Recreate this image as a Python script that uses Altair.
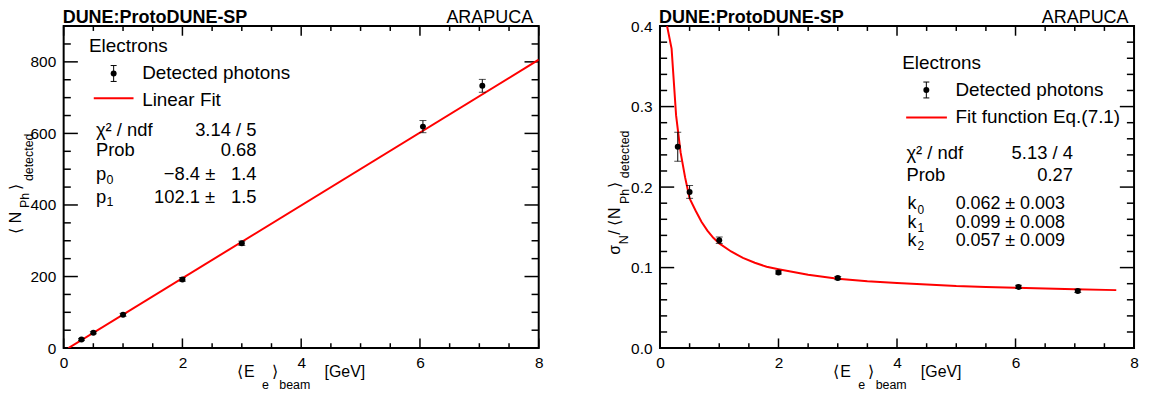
import altair as alt
import pandas as pd

FONT = "Liberation Sans"

# ---------------- data ----------------
E_beam = [0.3, 0.5, 1.0, 2.0, 3.0, 6.05, 7.05]

N_detected = [24, 43, 93, 192, 293, 619, 733]
N_detected_err = [3, 3, 4, 5, 6, 17, 18]
linfit_E = [0.08, 8.0]
linfit_N = [0, 806]

res_detected = [0.250, 0.194, 0.134, 0.094, 0.087, 0.076, 0.071]
res_detected_err = [0.018, 0.008, 0.004, 0.002, 0.002, 0.002, 0.002]
resfit_E = [0.12, 0.196, 0.272, 0.348, 0.424, 0.5, 0.6, 0.7, 0.8, 0.9, 1.0,
            1.2, 1.4, 1.6, 1.8, 2.0, 2.5, 3.0, 3.5, 4.0, 4.5, 5.0, 5.5, 6.0,
            6.5, 7.0, 7.7]
resfit_val = [0.400, 0.372, 0.289, 0.243, 0.212, 0.186, 0.171, 0.157, 0.146,
              0.137, 0.130, 0.120, 0.112, 0.106, 0.101, 0.098, 0.091, 0.086,
              0.083, 0.081, 0.079, 0.077, 0.076, 0.075, 0.074, 0.073, 0.072]

# tick positions / labels
x_major = [0, 2, 4, 6, 8]
x_minor = [0.5, 1, 1.5, 2.5, 3, 3.5, 4.5, 5, 5.5, 6.5, 7, 7.5]
yL_major = [0, 200, 400, 600, 800]
yL_minor = [50, 100, 150, 250, 300, 350, 450, 500, 550, 650, 700, 750, 850]
yR_major = [0.0, 0.1, 0.2, 0.3, 0.4]
yR_minor = [0.02, 0.04, 0.06, 0.08, 0.12, 0.14, 0.16, 0.18, 0.22, 0.24,
            0.26, 0.28, 0.32, 0.34, 0.36, 0.38]

# text content
title_left = "DUNE:ProtoDUNE-SP"
title_right = "ARAPUCA"
leg_header = "Electrons"
leg_points = "Detected photons"
leg_fit_L = "Linear Fit"
leg_fit_R = "Fit function Eq.(7.1)"
stats_L = [("χ² / ndf", "3.14 / 5"), ("Prob", "0.68")]
params_L = [("p", "0", "−8.4 ±", "1.4"), ("p", "1", "102.1 ±", "1.5")]
stats_R = [("χ² / ndf", "5.13 / 4"), ("Prob", "0.27")]
params_R = [("k", "0", "0.062 ± 0.003"), ("k", "1", "0.099 ± 0.008"),
            ("k", "2", "0.057 ± 0.009")]

# ---------------- geometry ----------------
WL, WR, H = 478, 477, 324
X0L, X0R, Y0 = 63, 663, 24
TMAJ_Y, TMIN_Y = 14.3, 7.2   # y-axis tick lengths (horizontal)
TMAJ_X, TMIN_X = 9.7, 4.9    # x-axis tick lengths (vertical)
DOT = 36

ONE = alt.Data(values=[{"k": 0}])


def axis(values, fmt, pad):
    return alt.Axis(values=values, format=fmt, labelFont=FONT, labelFontSize=15.5,
                    labelColor="black", labelPadding=pad, ticks=False, tickSize=0,
                    domain=False, grid=False, title=None, labelFlush=False,
                    labelOverlap=False)


def make_panel(W, X0, xsc, ysc, xax, yax, xs, ys, es, fx, fy, ymaj, ymin, ann):
    def T(s, x, y, size, align="left", weight="normal", angle=0):
        return alt.Chart(ONE).mark_text(
            text=s, align=align, baseline="alphabetic", fontSize=size, font=FONT,
            fontWeight=weight, angle=angle, color="black"
        ).encode(x=alt.value(x - X0), y=alt.value(y - Y0))

    def HR(x1, x2, y, color="black", w=1.0):
        return alt.Chart(ONE).mark_rule(color=color, strokeWidth=w).encode(
            x=alt.value(x1 - X0), x2=alt.value(x2 - X0), y=alt.value(y - Y0))

    def VR(x, y1, y2, color="black", w=1.0):
        return alt.Chart(ONE).mark_rule(color=color, strokeWidth=w).encode(
            x=alt.value(x - X0), y=alt.value(y1 - Y0), y2=alt.value(y2 - Y0))

    layers = []
    # inward ticks on all four sides
    for vals, ln in ((ymaj, TMAJ_Y), (ymin, TMIN_Y)):
        d = pd.DataFrame({"v": vals})
        Y = alt.Y("v:Q", scale=ysc, axis=yax)
        layers.append(alt.Chart(d).mark_rule(color="black", strokeWidth=1.5).encode(
            y=Y, x=alt.value(0), x2=alt.value(ln)))
        layers.append(alt.Chart(d).mark_rule(color="black", strokeWidth=1.5).encode(
            y=Y, x=alt.value(W - ln), x2=alt.value(W)))
    for vals, ln in ((x_major, TMAJ_X), (x_minor, TMIN_X)):
        d = pd.DataFrame({"v": vals})
        X = alt.X("v:Q", scale=xsc, axis=xax)
        layers.append(alt.Chart(d).mark_rule(color="black", strokeWidth=1.5).encode(
            x=X, y=alt.value(H - ln), y2=alt.value(H)))
        layers.append(alt.Chart(d).mark_rule(color="black", strokeWidth=1.5).encode(
            x=X, y=alt.value(0), y2=alt.value(ln)))

    # fit curve
    fd = pd.DataFrame({"x": fx, "y": fy})
    layers.append(alt.Chart(fd).mark_line(color="#ff0000", strokeWidth=2, clip=True).encode(
        x=alt.X("x:Q", scale=xsc, axis=xax), y=alt.Y("y:Q", scale=ysc, axis=yax)))

    # data points with error bars
    dd = pd.DataFrame({"x": xs, "y": ys, "e": es})
    base = alt.Chart(dd).transform_calculate(lo="datum.y - datum.e", hi="datum.y + datum.e")
    X = alt.X("x:Q", scale=xsc, axis=xax)
    layers.append(base.mark_rule(color="black", strokeWidth=1).encode(
        x=X, y=alt.Y("lo:Q", scale=ysc, axis=yax), y2="hi:Q"))
    for f in ("lo", "hi"):
        layers.append(base.mark_tick(color="black", orient="horizontal", size=7,
                                     thickness=1).encode(
            x=X, y=alt.Y(f + ":Q", scale=ysc, axis=yax)))
    layers.append(base.mark_circle(color="black", size=DOT, opacity=1).encode(
        x=X, y=alt.Y("y:Q", scale=ysc, axis=yax)))

    # annotations
    for a in ann:
        kind = a[0]
        if kind == "T":
            layers.append(T(*a[1:]))
        elif kind == "H":
            layers.append(HR(*a[1:]))
        elif kind == "V":
            layers.append(VR(*a[1:]))
        elif kind == "M":
            _, mx, my = a
            layers.append(VR(mx, my - 8, my + 8))
            layers.append(HR(mx - 3, mx + 3, my - 8))
            layers.append(HR(mx - 3, mx + 3, my + 8))
            layers.append(alt.Chart(ONE).mark_circle(color="black", size=DOT, opacity=1).encode(
                x=alt.value(mx - X0), y=alt.value(my - Y0)))
    return alt.layer(*layers).properties(width=W, height=H)


def xtitle(dx):
    return [
        ("T", "⟨", 237 + dx, 377.3, 16),
        ("T", "E", 244.5 + dx, 377.3, 16),
        ("T", "e", 262.5 + dx, 389, 12.5),
        ("T", "⟩", 272.5 + dx, 377.3, 16),
        ("T", "beam", 280 + dx, 389.5, 12.5),
        ("T", "[GeV]", 325.5 + dx, 377.3, 16),
    ]


def header(X0, W):
    return [
        ("T", title_left, X0 - 1, 21, 18.1, "left", "bold"),
        ("T", title_right, X0 + W - 5.5, 21, 18.1, "right"),
    ]


# ---------------- left panel ----------------
annL = header(X0L, WL) + xtitle(0) + [
    ("T", "⟨", 20, 233, 16, "left", "normal", 270),
    ("T", "N", 20, 222.3, 16, "left", "normal", 270),
    ("T", "Ph", 28.5, 207, 12.5, "left", "normal", 270),
    ("T", "⟩", 20, 189, 16, "left", "normal", 270),
    ("T", "detected", 32, 180, 12.5, "left", "normal", 270),
    ("T", leg_header, 88.5, 50, 19),
    ("M", 113.3, 71.7),
    ("T", leg_points, 142, 77.7, 19),
    ("H", 93.3, 133.3, 96.7, "#ff0000", 2),
    ("T", leg_fit_L, 142, 104, 19),
]
for i, (lab, val) in enumerate(stats_L):
    yb = [134.5, 155][i]
    annL += [("T", lab, 95.5, yb, 18.5), ("T", val, 257, yb, 18.5, "right")]
for i, (p, sub, v1, v2) in enumerate(params_L):
    yb = [179, 201.7][i]
    annL += [("T", p, 95.5, yb, 18.5), ("T", sub, 106, yb + 3.5, 12.5),
             ("T", v1, 215.5, yb, 18.5, "right"), ("T", v2, 257, yb, 18.5, "right")]

xscale = alt.Scale(domain=[0, 8], nice=False, zero=False)
yscaleL = alt.Scale(domain=[0, 900], nice=False, zero=False)
yscaleR = alt.Scale(domain=[0, 0.4], nice=False, zero=False)

left = make_panel(WL, X0L, xscale, yscaleL, axis(x_major, "d", 7.5), axis(yL_major, "d", 8),
                  E_beam, N_detected, N_detected_err, linfit_E, linfit_N,
                  yL_major, yL_minor, annL)

# ---------------- right panel ----------------
annR = header(X0R, WR) + xtitle(600) + [
    ("T", "σ", 623, 254, 16, "left", "normal", 270),
    ("T", "N", 631, 243.5, 12.5, "left", "normal", 270),
    ("T", "/", 623, 234, 16, "left", "normal", 270),
    ("T", "⟨", 623, 225.5, 16, "left", "normal", 270),
    ("T", "N", 623, 218, 16, "left", "normal", 270),
    ("T", "Ph", 632, 203, 12.5, "left", "normal", 270),
    ("T", "⟩", 623, 186.5, 16, "left", "normal", 270),
    ("T", "detected", 632, 177, 12.5, "left", "normal", 270),
    ("T", leg_header, 906.8, 66.7, 19),
    ("M", 931, 88.3),
    ("T", leg_points, 960.3, 94, 19),
    ("H", 910.7, 951.7, 116, "#ff0000", 2),
    ("T", leg_fit_R, 960.3, 121.7, 19),
]
for i, (lab, val) in enumerate(stats_R):
    yb = [157.3, 180][i]
    annR += [("T", lab, 911, yb, 18.5), ("T", val, 1078.5, yb, 18.5, "right")]
for i, (k, sub, v) in enumerate(params_R):
    yb = [208.3, 226.7, 245][i]
    annR += [("T", k, 912, yb, 18), ("T", sub, 922, yb + 4.5, 12),
             ("T", v, 960.5, yb, 18)]

right = make_panel(WR, X0R, xscale, yscaleR, axis(x_major, "d", 7.5), axis(yR_major, ".1f", 8),
                   E_beam, res_detected, res_detected_err, resfit_E, resfit_val,
                   yR_major, yR_minor, annR)

chart = alt.hconcat(left, right, spacing=122, bounds="flush").properties(
    padding={"left": -1, "top": -1, "right": 2, "bottom": 0}
).configure_view(stroke="black", strokeWidth=2)

chart.save("out.html", embed_options={"renderer": "svg", "actions": False})
